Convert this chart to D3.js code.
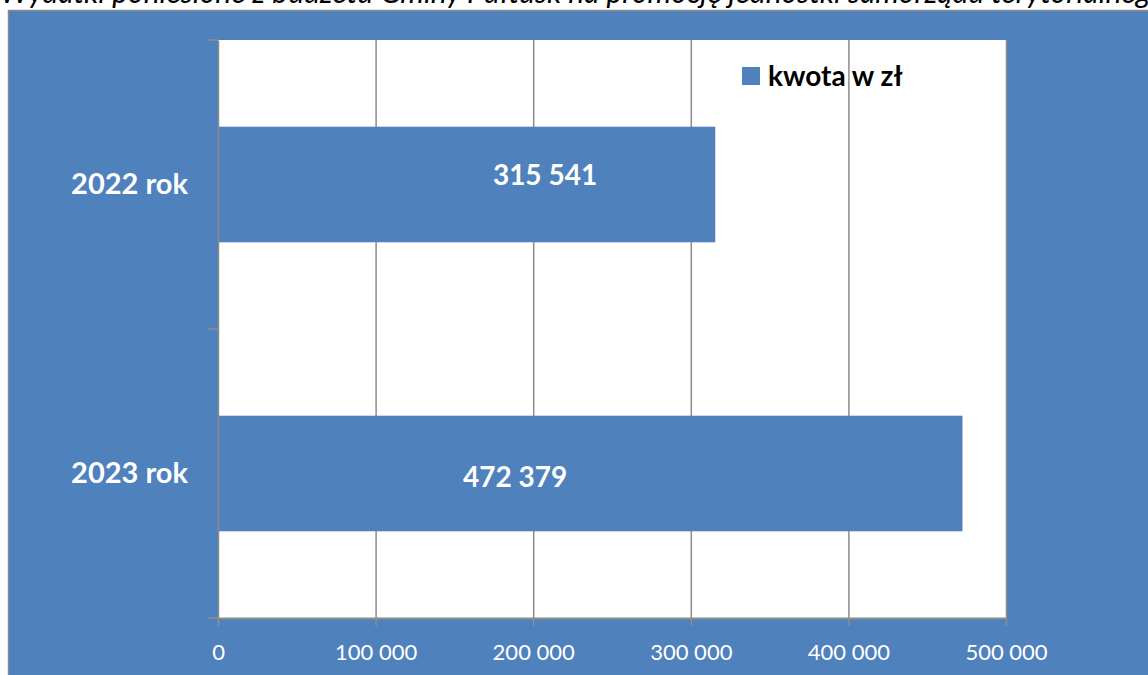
<!DOCTYPE html>
<html>
<head>
<meta charset="utf-8">
<script src="https://cdn.jsdelivr.net/npm/d3@7"></script>
<style>
  body { margin: 0; background: #fff; }
  svg { display: block; }
</style>
</head>
<body>
<svg id="chart" width="1148" height="675"></svg>
<script>
// data
var categories = ["2022 rok", "2023 rok"];
var values = [315541, 472379];
var labelAt = [207500, 188500];   // where Excel put the value labels (in zł)
var xTicks = [0, 100000, 200000, 300000, 400000, 500000];
var seriesName = "kwota w zł";
var title = "Wydatki poniesione z budżetu Gminy Pułtusk na promocję jednostki samorządu terytorialnego";

var blue = "#4f81bd";
var grid = "#8c8c8c";
var font = "Lato, 'Open Sans', sans-serif";

var svg = d3.select("#chart");

// title, mostly cut off at the top (as in the source picture)
svg.append("text")
    .attr("x", 0).attr("y", 3)
    .attr("font-family", font)
    .attr("font-style", "italic")
    .attr("font-size", 30)
    .attr("fill", "#000")
    .text(title);

// chart area background
svg.append("rect")
    .attr("x", 8.5).attr("y", 10.5)
    .attr("width", 1148).attr("height", 675)
    .attr("fill", blue)
    .attr("stroke", "#8a8a8a").attr("stroke-width", 1.5);

var plot = { left: 218, top: 40, right: 1006, bottom: 618 };

var x = d3.scaleLinear().domain([0, 500000]).range([plot.left, plot.right]);
var y = d3.scaleBand().domain(categories).range([plot.top, plot.bottom])
    .paddingInner(0.6).paddingOuter(0.3);
var yFull = d3.scaleBand().domain(categories).range([plot.top, plot.bottom]);

svg.append("rect")
    .attr("x", plot.left).attr("y", plot.top)
    .attr("width", plot.right - plot.left).attr("height", plot.bottom - plot.top)
    .attr("fill", "#fff");

// vertical grid lines
svg.append("g").selectAll("line")
    .data(xTicks.slice(1))
    .join("line")
    .attr("x1", d => x(d) + 0.5).attr("x2", d => x(d) + 0.5)
    .attr("y1", plot.top).attr("y2", plot.bottom)
    .attr("stroke", grid).attr("stroke-width", 1.5);

// bars
svg.append("g").selectAll("rect")
    .data(values)
    .join("rect")
    .attr("x", x(0))
    .attr("y", (d, i) => y(categories[i]))
    .attr("width", d => x(d) - x(0))
    .attr("height", y.bandwidth())
    .attr("fill", blue);

// value labels
var fmt = d3.formatLocale({ decimal: ",", thousands: " ", grouping: [3], currency: ["", " zł"] }).format(",d");
svg.append("g").selectAll("text")
    .data(values)
    .join("text")
    .attr("x", (d, i) => x(labelAt[i]))
    .attr("y", (d, i) => y(categories[i]) + y.bandwidth() / 2 + (i == 0 ? -9 : 4))
    .attr("dy", "0.35em")
    .attr("text-anchor", "middle")
    .attr("font-family", font)
    .attr("font-weight", "bold")
    .attr("font-size", 28)
    .attr("fill", "#fff")
    .text(d => fmt(d));

// x axis
var xAxis = svg.append("g")
    .attr("transform", "translate(0," + plot.bottom + ")")
    .call(d3.axisBottom(x).tickValues(xTicks).tickSize(8).tickSizeOuter(0).tickFormat(fmt));
xAxis.select(".domain").attr("stroke", grid).attr("stroke-width", 2);
xAxis.selectAll(".tick line").attr("stroke", grid).attr("stroke-width", 1.5);
xAxis.selectAll("text")
    .attr("y", 26).attr("dy", "0.71em")
    .attr("font-family", font).attr("font-size", 22).attr("fill", "#fff");

// y axis
var yAxis = svg.append("g")
    .attr("transform", "translate(" + plot.left + ",0)")
    .call(d3.axisLeft(yFull).tickSize(0).tickSizeOuter(0));
yAxis.select(".domain").attr("stroke", grid).attr("stroke-width", 1.5);
yAxis.selectAll("text")
    .attr("x", -30)
    .attr("font-family", font).attr("font-weight", "bold").attr("font-size", 29).attr("fill", "#fff");

// y tick marks on the category borders
var yEdges = [plot.top].concat(categories.map(c => yFull(c) + yFull.bandwidth()));
svg.append("g").selectAll("line")
    .data(yEdges)
    .join("line")
    .attr("x1", plot.left - 10).attr("x2", plot.left)
    .attr("y1", d => d).attr("y2", d => d)
    .attr("stroke", grid).attr("stroke-width", 1.5);

// legend
var legend = svg.append("g").attr("transform", "translate(742,67)");
legend.append("rect").attr("width", 18).attr("height", 18).attr("fill", blue);
legend.append("text")
    .attr("x", 26).attr("y", 9).attr("dy", "0.35em")
    .attr("font-family", font).attr("font-weight", "bold").attr("font-size", 28)
    .attr("fill", "#000")
    .text(seriesName);
</script>
</body>
</html>
